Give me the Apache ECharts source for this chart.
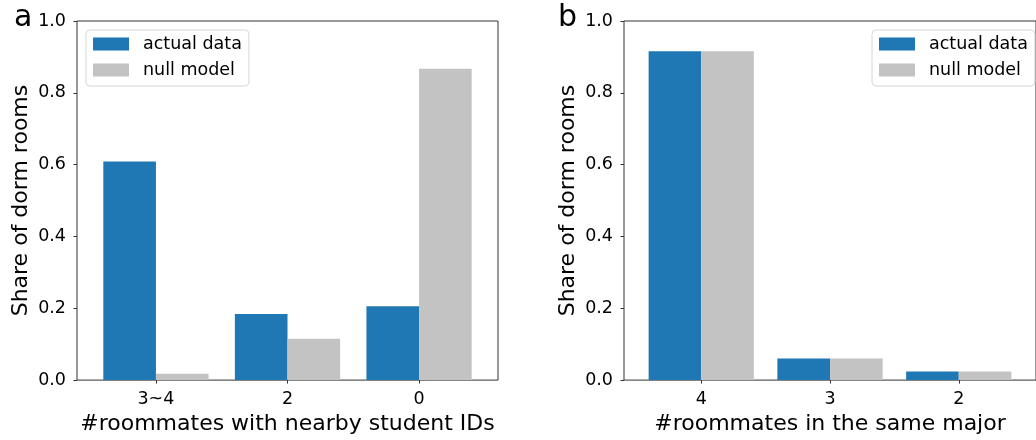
<!DOCTYPE html>
<html>
<head>
<meta charset="utf-8">
<script src="https://cdn.jsdelivr.net/npm/echarts@6/dist/echarts.min.js"></script>
<style>
html,body{margin:0;padding:0;background:#fff;}
#chart{width:1036px;height:440px;}
</style>
</head>
<body>
<div id="chart"></div>
<script>
// ---- data ----
const categoriesA = ['3~4', '2', '0'];
const actualA = [0.609, 0.184, 0.206];
const nullA = [0.018, 0.115, 0.867];

const categoriesB = ['4', '3', '2'];
const actualB = [0.916, 0.060, 0.024];
const nullB = [0.916, 0.060, 0.024];

const yTicks = [0, 0.2, 0.4, 0.6, 0.8, 1.0];
const seriesNames = ['actual data', 'null model'];

// ---- style ----
const FONT = 'DejaVu Sans';
const BLUE = '#1f77b4';
const GRAY = '#c3c3c3';
const SPINE = '#333333';
const GRID_W = 421, GRID_H = 362, GRID_TOP = 21;
const XMIN = -0.6, XMAX = 2.6;
const BAR_W = GRID_W / (XMAX - XMIN) * 0.4;

const chart = echarts.init(document.getElementById('chart'), null, {renderer: 'canvas'});

function xAxisFor(cats, idx, name) {
  return {
    type: 'value', gridIndex: idx, min: XMIN, max: XMAX, position: 'bottom',
    name: name, nameLocation: 'middle', nameGap: 32,
    nameTextStyle: {fontFamily: FONT, fontSize: 22, color: '#000'},
    axisLine: {show: false, onZero: false},
    splitLine: {show: false},
    axisTick: {show: true, inside: false, length: 3.5, customValues: [0, 1, 2],
      lineStyle: {color: SPINE, width: 1}},
    axisLabel: {show: true, margin: 10, customValues: [0, 1, 2],
      fontFamily: FONT, fontSize: 17.5, color: '#000',
      formatter: v => cats[Math.round(v)]}
  };
}
function yAxisFor(idx) {
  return {
    type: 'value', gridIndex: idx, min: 0, max: 1, interval: 0.2, position: 'left',
    name: 'Share of dorm rooms', nameLocation: 'middle', nameGap: 45, nameRotate: 90,
    nameTextStyle: {fontFamily: FONT, fontSize: 22, color: '#000'},
    axisLine: {show: false, onZero: false},
    splitLine: {show: false},
    axisTick: {show: true, inside: false, length: 3.5, lineStyle: {color: SPINE, width: 1}},
    axisLabel: {margin: 11, fontFamily: FONT, fontSize: 17.5, color: '#000',
      formatter: v => v.toFixed(1)}
  };
}
function legendFor(left) {
  return {
    data: seriesNames, orient: 'vertical', left: left, top: 30,
    itemWidth: 36, itemHeight: 13, itemGap: 8,
    padding: [5, 7, 7, 7],
    backgroundColor: '#fff', borderColor: '#d6d6d6', borderWidth: 1, borderRadius: 4,
    icon: 'rect',
    textStyle: {fontFamily: FONT, fontSize: 17.5, color: '#000', padding: [0, 0, 0, 9]}
  };
}
function bars(name, vals, idx, color) {
  return {
    type: 'bar', name: name, xAxisIndex: idx, yAxisIndex: idx,
    data: vals.map((v, i) => [i, v]),
    barWidth: BAR_W, barGap: '0%',
    itemStyle: {color: color},
    emphasis: {disabled: true}
  };
}

chart.setOption({
  animation: false,
  backgroundColor: '#fff',
  title: [
    {text: 'a', left: 14, top: 3, padding: 0,
      textStyle: {fontFamily: FONT, fontSize: 30, fontWeight: 'normal', color: '#000'}},
    {text: 'b', left: 558, top: 3, padding: 0,
      textStyle: {fontFamily: FONT, fontSize: 30, fontWeight: 'normal', color: '#000'}}
  ],
  grid: [
    {left: 77, top: GRID_TOP, width: GRID_W, height: GRID_H, show: true,
      borderColor: SPINE, borderWidth: 1, backgroundColor: 'transparent'},
    {left: 624, top: GRID_TOP, width: GRID_W, height: GRID_H, show: true,
      borderColor: SPINE, borderWidth: 1, backgroundColor: 'transparent'}
  ],
  legend: [legendFor(86), legendFor(872)],
  xAxis: [
    xAxisFor(categoriesA, 0, '#roommates with nearby student IDs'),
    xAxisFor(categoriesB, 1, '#roommates in the same major')
  ],
  yAxis: [yAxisFor(0), yAxisFor(1)],
  series: [
    bars(seriesNames[0], actualA, 0, BLUE),
    bars(seriesNames[1], nullA, 0, GRAY),
    bars(seriesNames[0], actualB, 1, BLUE),
    bars(seriesNames[1], nullB, 1, GRAY)
  ]
});
</script>
</body>
</html>
